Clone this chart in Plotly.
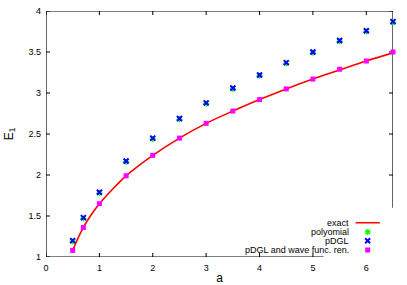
import plotly.graph_objects as go

# ---- data ----
a_points = [0.5, 0.7, 1.0, 1.5, 2.0, 2.5, 3.0, 3.5, 4.0, 4.5, 5.0, 5.5, 6.0, 6.5]
pdgl = [1.20, 1.48, 1.79, 2.17, 2.45, 2.69, 2.88, 3.06, 3.22, 3.37, 3.50, 3.64, 3.76, 3.87]
polynomial = [1.19, 1.47, 1.78, 2.16, 2.44, 2.68, 2.87, 3.05, 3.21, 3.36, 3.49, 3.63, 3.75, 3.86]
pdgl_wave = [1.08, 1.36, 1.65, 1.99, 2.24, 2.45, 2.63, 2.78, 2.92, 3.05, 3.17, 3.29, 3.39, 3.50]

a_exact = [0.5, 0.6, 0.7, 0.8, 0.9, 1.0, 1.25, 1.5, 1.75, 2.0, 2.5, 3.0, 3.5, 4.0, 4.5, 5.0, 5.5, 6.0, 6.5]
e_exact = [1.08, 1.23, 1.36, 1.47, 1.565, 1.65, 1.83, 1.99, 2.12, 2.24, 2.45, 2.63, 2.78, 2.92, 3.05, 3.17, 3.28, 3.39, 3.49]

x_range = [0, 6.5]
y_range = [1, 4]
x_ticks = [0, 1, 2, 3, 4, 5, 6]
y_ticks = [1, 1.5, 2, 2.5, 3, 3.5, 4]
y_tick_labels = ["1", "1.5", "2", "2.5", "3", "3.5", "4"]

legend_names = ["exact", "polyomial", "pDGL", "pDGL and wave func. ren."]

RED = "#ff0000"
GREEN = "#00ff00"
BLUE = "#0000ff"
MAGENTA = "#ff00ff"
FRAME = "#000000"
FONT = "Liberation Sans, Arial, sans-serif"

W, H = 407, 285
ML, MR, MT, MB = 46, 14, 11, 28
PW, PH = W - ML - MR, H - MT - MB
TICK_PX = 4

fig = go.Figure()

# ---- border box and inward ticks, drawn along the axis ranges ----
x0, x1 = x_range
y0, y1 = y_range
fig.add_trace(go.Scatter(x=[x0, x1, x1, x0, x0], y=[y0, y0, y1, y1, y0], mode="lines",
                         line=dict(color=FRAME, width=1.2), showlegend=False, hoverinfo="skip",
                         cliponaxis=False))
dx = TICK_PX * (x1 - x0) / PW
dy = TICK_PX * (y1 - y0) / PH
tx, ty = [], []
for v in x_ticks:
    tx += [v, v, None, v, v, None]
    ty += [y0, y0 + dy, None, y1 - dy, y1, None]
for v in y_ticks:
    tx += [x0, x0 + dx, None, x1 - dx, x1, None]
    ty += [v, v, None, v, v, None]
fig.add_trace(go.Scatter(x=tx, y=ty, mode="lines", line=dict(color=FRAME, width=1),
                         showlegend=False, hoverinfo="skip", cliponaxis=False, connectgaps=False))

# ---- data series ----
fig.add_trace(go.Scatter(x=a_exact, y=e_exact, mode="lines", line=dict(color=RED, width=1.6, shape="spline"),
                         showlegend=False))
fig.add_trace(go.Scatter(x=a_points, y=polynomial, mode="markers",
                         marker=dict(symbol="asterisk", size=5, line=dict(color=GREEN, width=1.2), color=GREEN),
                         showlegend=False, cliponaxis=False))
fig.add_trace(go.Scatter(x=a_points, y=pdgl, mode="markers",
                         marker=dict(symbol="x-thin", size=5, line=dict(color=BLUE, width=2), color=BLUE),
                         showlegend=False, cliponaxis=False))
fig.add_trace(go.Scatter(x=a_points, y=pdgl_wave, mode="markers",
                         marker=dict(symbol="square", size=5, color=MAGENTA, line=dict(width=0)),
                         showlegend=False, cliponaxis=False))

# ---- gnuplot-style legend keys (sample right of text) on a hidden overlay axis in paper units ----
rows_y = [0.139, 0.102, 0.066, 0.028]
key_x0, key_x1, key_xm, text_x = 0.892, 0.962, 0.927, 0.878
fig.add_trace(go.Scatter(x=[key_x0, key_x1], y=[rows_y[0]] * 2, mode="lines", line=dict(color=RED, width=1.6),
                         xaxis="x2", yaxis="y2", showlegend=False, hoverinfo="skip"))
fig.add_trace(go.Scatter(x=[key_xm], y=[rows_y[1]], mode="markers",
                         marker=dict(symbol="asterisk", size=5, line=dict(color=GREEN, width=1.2)),
                         xaxis="x2", yaxis="y2", showlegend=False, hoverinfo="skip"))
fig.add_trace(go.Scatter(x=[key_xm], y=[rows_y[2]], mode="markers",
                         marker=dict(symbol="x-thin", size=5, line=dict(color=BLUE, width=2)),
                         xaxis="x2", yaxis="y2", showlegend=False, hoverinfo="skip"))
fig.add_trace(go.Scatter(x=[key_xm], y=[rows_y[3]], mode="markers",
                         marker=dict(symbol="square", size=5, color=MAGENTA),
                         xaxis="x2", yaxis="y2", showlegend=False, hoverinfo="skip"))
for name, yy in zip(legend_names, rows_y):
    fig.add_annotation(x=text_x, y=yy, xref="x2", yref="y2", text=name, showarrow=False,
                       xanchor="right", yanchor="middle",
                       font=dict(family=FONT, size=9, color="#000"))

axis_common = dict(showgrid=False, zeroline=False, showline=False, ticks="",
                   tickfont=dict(family=FONT, size=9, color="#000"))

fig.update_layout(
    width=W, height=H,
    margin=dict(l=ML, r=MR, t=MT, b=MB, autoexpand=False),
    plot_bgcolor="white", paper_bgcolor="white",
    xaxis=dict(range=x_range, tickvals=x_ticks, ticktext=[str(v) for v in x_ticks],
               title=dict(text="a", font=dict(family=FONT, size=12, color="#000"), standoff=2),
               domain=[0, 1], anchor="y", ticklabelstandoff=4, **axis_common),
    yaxis=dict(range=y_range, tickvals=y_ticks, ticktext=y_tick_labels,
               title=dict(text="E<sub>1</sub>", font=dict(family=FONT, size=12, color="#000"), standoff=12),
               domain=[0, 1], anchor="x", ticklabelstandoff=4, **axis_common),
    xaxis2=dict(domain=[0.8, 1.0], range=[0.8, 1.0], visible=False, anchor="y2"),
    yaxis2=dict(domain=[0.0, 0.2], range=[0.0, 0.2], visible=False, anchor="x2"),
    showlegend=False,
)

fig.write_html("out.html", post_script="document.body.style.margin='0';",
               config={"displayModeBar": False})
